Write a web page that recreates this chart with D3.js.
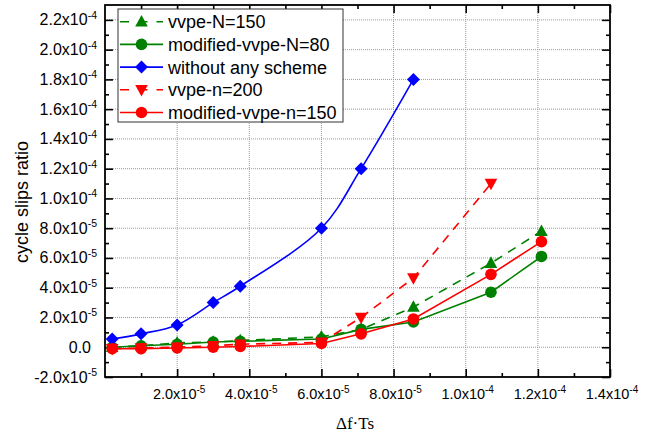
<!DOCTYPE html>
<html><head><meta charset="utf-8">
<script src="https://cdn.jsdelivr.net/npm/d3@7"></script>
<style>body{margin:0;background:#fff}svg{display:block}</style>
</head><body>
<svg id="c" width="649" height="439"></svg>
<script>
const xVals = [2e-6, 1e-5, 2e-5, 3e-5, 3.75e-5, 6e-5, 7.1e-5, 8.55e-5, 1.07e-4, 1.21e-4];
const vvpeN150 = [0, 1e-6, 3e-6, 3.5e-6, 4.5e-6, 7e-6, 1.2e-5, 2.7e-5, 5.65e-5, 7.8e-5];
const modVvpeN80 = [0, 1e-6, 2e-6, 3.5e-6, 4e-6, 5.5e-6, 1.2e-5, 1.7e-5, 3.7e-5, 6.1e-5];
const withoutScheme = [5.5e-6, 9e-6, 1.5e-5, 3e-5, 4.1e-5, 8e-5, 1.2e-4, 1.8e-4];
const vvpeN200 = [-1e-6, -0.5e-6, 0, 1e-6, 2e-6, 3.3e-6, 2e-5, 4.65e-5, 1.1e-4];
const modVvpeN150 = [-1e-6, -1e-6, -0.5e-6, 0, 0.5e-6, 2.5e-6, 9e-6, 1.9e-5, 4.9e-5, 7.1e-5];

const xTickVals = [2e-5, 4e-5, 6e-5, 8e-5, 1e-4, 1.2e-4, 1.4e-4];
const xTickMant = ["2.0", "4.0", "6.0", "8.0", "1.0", "1.2", "1.4"];
const xTickExp = ["-5", "-5", "-5", "-5", "-4", "-4", "-4"];
const yTickVals = [-2e-5, 0, 2e-5, 4e-5, 6e-5, 8e-5, 1e-4, 1.2e-4, 1.4e-4, 1.6e-4, 1.8e-4, 2e-4, 2.2e-4];
const yTickMant = ["-2.0", "0.0", "2.0", "4.0", "6.0", "8.0", "1.0", "1.2", "1.4", "1.6", "1.8", "2.0", "2.2"];
const yTickExp = ["-5", "", "-5", "-5", "-5", "-5", "-4", "-4", "-4", "-4", "-4", "-4", "-4"];

const legendNames = ["vvpe-N=150", "modified-vvpe-N=80", "without any scheme", "vvpe-n=200", "modified-vvpe-n=150"];

const series = [
  {name: legendNames[0], vals: vvpeN150, color: "#008000", dash: true, marker: "tri"},
  {name: legendNames[1], vals: modVvpeN80, color: "#008000", dash: false, marker: "circ"},
  {name: legendNames[2], vals: withoutScheme, color: "#0000ff", dash: false, marker: "diam", smooth: true},
  {name: legendNames[3], vals: vvpeN200, color: "#ff0000", dash: true, marker: "tridown"},
  {name: legendNames[4], vals: modVvpeN150, color: "#ff0000", dash: false, marker: "circ"}
];

const svg = d3.select("#c");
const L = 105, R = 610, T = 5, B = 377;
const x = d3.scaleLinear().domain([0, 1.4e-4]).range([L, R]);
const y = d3.scaleLinear().domain([-2e-5, 2.3e-4]).range([B, T]);

// grid
const g = svg.append("g");
g.selectAll(".gx").data(xTickVals.filter(v => v < 1.4e-4)).enter().append("line")
  .attr("x1", d => x(d)).attr("x2", d => x(d)).attr("y1", T).attr("y2", B)
  .attr("stroke", "#9a9a9a").attr("stroke-width", 1).attr("stroke-dasharray", "1,1");
g.selectAll(".gy").data(yTickVals.filter(v => v > -2e-5)).enter().append("line")
  .attr("y1", d => y(d)).attr("y2", d => y(d)).attr("x1", L).attr("x2", R)
  .attr("stroke", "#9a9a9a").attr("stroke-width", 1).attr("stroke-dasharray", "1,1");

// axes with inward ticks
const xMinor = d3.range(1, 14, 2).map(i => i * 1e-5);
const yMinor = d3.range(-1, 23, 2).map(i => i * 1e-5);
const axB = d3.axisBottom(x).tickValues(xTickVals).tickSize(-8).tickFormat("");
const axBm = d3.axisBottom(x).tickValues(xMinor).tickSize(-4).tickFormat("");
const axT = d3.axisTop(x).tickValues(xTickVals).tickSize(-8).tickFormat("");
const axTm = d3.axisTop(x).tickValues(xMinor).tickSize(-4).tickFormat("");
const axLf = d3.axisLeft(y).tickValues(yTickVals).tickSize(-8).tickFormat("");
const axLm = d3.axisLeft(y).tickValues(yMinor).tickSize(-4).tickFormat("");
const axRt = d3.axisRight(y).tickValues(yTickVals).tickSize(-8).tickFormat("");
const axRm = d3.axisRight(y).tickValues(yMinor).tickSize(-4).tickFormat("");
function put(ax, tr) {
  const a = svg.append("g").attr("transform", tr).call(ax);
  a.select(".domain").remove();
  a.selectAll("line").attr("stroke", "#000").attr("stroke-width", 1.6);
}
put(axB, `translate(0,${B})`); put(axBm, `translate(0,${B})`);
put(axT, `translate(0,${T})`); put(axTm, `translate(0,${T})`);
put(axLf, `translate(${L},0)`); put(axLm, `translate(${L},0)`);
put(axRt, `translate(${R},0)`); put(axRm, `translate(${R},0)`);
svg.append("rect").attr("x", L).attr("y", T).attr("width", R - L).attr("height", B - T)
  .attr("fill", "none").attr("stroke", "#000").attr("stroke-width", 1.8);

// tick labels
const fontSans = "'Liberation Sans', Arial, sans-serif";
xTickVals.forEach((v, i) => {
  const t = svg.append("text").attr("x", x(v) + 2).attr("y", 399).attr("text-anchor", "middle")
    .attr("font-family", fontSans).attr("font-size", 14.5).attr("fill", "#000");
  t.append("tspan").text(xTickMant[i] + "x10");
  t.append("tspan").attr("dy", -6).attr("font-size", 10).text(xTickExp[i]);
});
yTickVals.forEach((v, i) => {
  const t = svg.append("text").attr("x", 97).attr("y", y(v) + 5.5).attr("text-anchor", "end")
    .attr("font-family", fontSans).attr("font-size", 16).attr("fill", "#000");
  if (yTickExp[i]) {
    t.append("tspan").text(yTickMant[i] + "x10");
    t.append("tspan").attr("dy", -6.5).attr("font-size", 10.5).text(yTickExp[i]);
  } else {
    t.append("tspan").attr("dx", -6).text(yTickMant[i]);
  }
});

// axis titles
svg.append("text").attr("transform", "translate(28,202) rotate(-90)").attr("text-anchor", "middle")
  .attr("font-family", fontSans).attr("font-size", 18).text("cycle slips ratio");
svg.append("text").attr("x", 355).attr("y", 429).attr("text-anchor", "middle")
  .attr("font-family", "'Liberation Serif', 'Times New Roman', serif").attr("font-size", 17).text("Δf·Ts");

// markers
function marker(sel, type, cx, cy, color) {
  if (type === "circ") {
    sel.append("circle").attr("cx", cx).attr("cy", cy).attr("r", 5.8).attr("fill", color);
  } else if (type === "diam") {
    sel.append("path").attr("d", `M${cx},${cy-6.5}L${cx+6.5},${cy}L${cx},${cy+6.5}L${cx-6.5},${cy}Z`).attr("fill", color);
  } else if (type === "tri") {
    sel.append("path").attr("d", `M${cx},${cy-6.8}L${cx+6.3},${cy+4.8}L${cx-6.3},${cy+4.8}Z`).attr("fill", color);
  } else if (type === "tridown") {
    sel.append("path").attr("d", `M${cx},${cy+6.8}L${cx+6.3},${cy-4.8}L${cx-6.3},${cy-4.8}Z`).attr("fill", color);
  }
}

const plot = svg.append("g");
series.forEach(s => {
  const pts = s.vals.map((v, i) => [xVals[i], v]);
  const line = d3.line().x(d => x(d[0])).y(d => y(d[1]))
    .curve(s.smooth ? d3.curveCatmullRom : d3.curveLinear);
  plot.append("path").attr("d", line(pts)).attr("fill", "none").attr("stroke", s.color)
    .attr("stroke-width", 1.6).attr("stroke-dasharray", s.dash ? "9,7" : null);
  const mg = plot.append("g");
  pts.forEach(p => marker(mg, s.marker, x(p[0]), y(p[1]), s.color));
});

// legend
const lg = svg.append("g");
lg.append("rect").attr("x", 118).attr("y", 9).attr("width", 225).attr("height", 113)
  .attr("fill", "#fff").attr("stroke", "#333").attr("stroke-width", 1);
series.forEach((s, i) => {
  const yy = 21.7 + i * 22.7;
  lg.append("line").attr("x1", 120).attr("x2", 163).attr("y1", yy).attr("y2", yy)
    .attr("stroke", s.color).attr("stroke-width", 1.6)
    .attr("stroke-dasharray", s.dash ? "9,9.5,9" : null);
  marker(lg, s.marker, 141.5, yy, s.color);
  lg.append("text").attr("x", 168).attr("y", yy + 6.5).attr("font-family", fontSans)
    .attr("font-size", 18).attr("fill", "#000").text(s.name);
});
</script>
</body></html>
